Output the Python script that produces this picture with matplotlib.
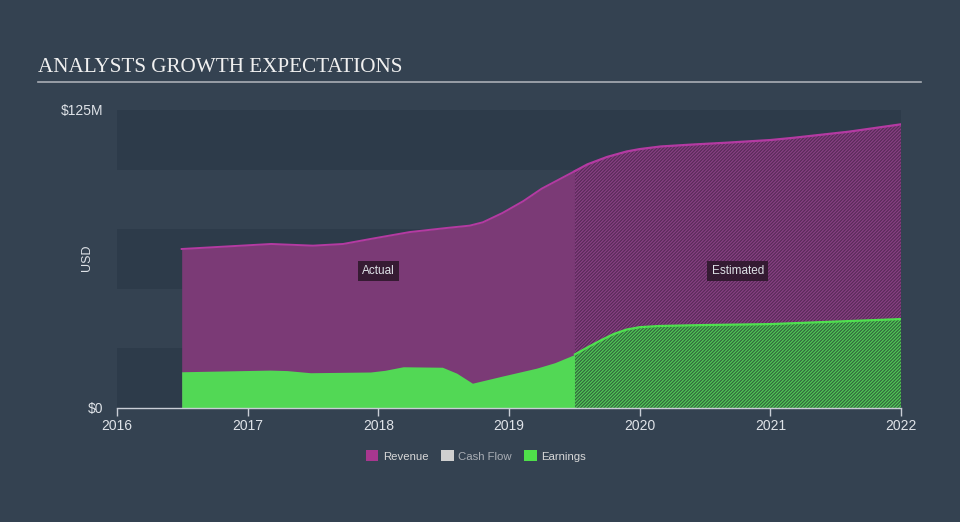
import matplotlib
matplotlib.use("Agg")
import matplotlib.pyplot as plt
from matplotlib.patches import Patch
from matplotlib.lines import Line2D

# ---- data (millions USD) ----
rev_act_x = [2016.495, 2017.18, 2017.50, 2017.73, 2017.94, 2018.24, 2018.52, 2018.70, 2018.80, 2018.95, 2019.11, 2019.25, 2019.505]
rev_act_y = [66.7, 68.8, 68.1, 68.8, 70.9, 73.8, 75.5, 76.5, 77.9, 81.8, 86.8, 92.0, 99.4]
rev_est_x = [2019.505, 2019.60, 2019.75, 2019.90, 2020.0, 2020.16, 2020.40, 2020.67, 2021.0, 2021.17, 2021.60, 2022.0]
rev_est_y = [99.4, 102.2, 105.3, 107.6, 108.6, 109.7, 110.5, 111.3, 112.4, 113.3, 115.9, 119.0]

earn_act_x = [2016.495, 2017.17, 2017.30, 2017.48, 2017.94, 2018.05, 2018.19, 2018.49, 2018.60, 2018.72, 2018.95, 2019.21, 2019.35, 2019.505]
earn_act_y = [15.2, 15.9, 15.7, 14.8, 15.1, 15.8, 17.3, 17.1, 14.6, 10.4, 13.4, 16.7, 19.0, 22.5]
earn_est_x = [2019.505, 2019.60, 2019.70, 2019.80, 2019.90, 2020.0, 2020.15, 2020.5, 2021.0, 2022.0]
earn_est_y = [22.5, 25.4, 28.3, 31.0, 32.9, 33.9, 34.4, 34.8, 35.2, 37.3]

years = [2016, 2017, 2018, 2019, 2020, 2021, 2022]
y_ticks = [0, 125]
y_labels = ["$0", "$125M"]
legend_names = ["Revenue", "Cash Flow", "Earnings"]

BG = "#344251"
BAND = "#2d3b4a"
REV = "#7b3a76"
REV_LINE = "#b43aa2"
REV_EST = "#5a2b59"
EARN = "#52d855"
EARN_EST = "#32683d"
TXT = "#dfe3e8"

plt.rcParams["hatch.linewidth"] = 0.8
plt.rcParams["font.family"] = ["Liberation Sans", "DejaVu Sans"]

fig = plt.figure(figsize=(9.6, 5.22), dpi=100, facecolor=BG)
ax = fig.add_axes([117 / 960, 1 - 408 / 522, 784 / 960, 298 / 522])
ax.set_facecolor(BG)
ax.set_xlim(2016, 2022)
ax.set_ylim(0, 125)

# alternating bands
for lo in (0, 50, 100):
    ax.axhspan(lo, lo + 25, color=BAND, lw=0, zorder=0)

# actual
ax.fill_between(rev_act_x, 0, rev_act_y, color=REV, lw=0, zorder=1)
ax.fill_between(earn_act_x, 0, earn_act_y, color=EARN, lw=0, zorder=2)
ax.plot(rev_act_x, rev_act_y, color=REV_LINE, lw=1.4, zorder=3)

# estimated (hatched)
ax.fill_between(rev_est_x, 0, rev_est_y, facecolor=REV_EST, edgecolor="#8a4185",
                hatch="//////////", lw=0, zorder=1)
ax.fill_between(earn_est_x, 0, earn_est_y, facecolor=EARN_EST, edgecolor="#52cc57",
                hatch="//////////", lw=0, zorder=2)
ax.plot(rev_est_x, rev_est_y, color=REV_LINE, lw=1.6, zorder=3)
ax.plot(earn_est_x, earn_est_y, color="#4fe04f", lw=1.6, zorder=3)

box = dict(facecolor="#2a1628", edgecolor="none", alpha=0.85, pad=3)
ax.text(2018.0, 57.5, "Actual", color=TXT, fontsize=8.5, ha="center", va="center", bbox=box, zorder=5)
ax.text(2020.75, 57.5, "Estimated", color=TXT, fontsize=8.5, ha="center", va="center", bbox=box, zorder=5)

# axes styling
for s in ("top", "right", "left"):
    ax.spines[s].set_visible(False)
ax.spines["bottom"].set_color("#c9ced6")
ax.spines["bottom"].set_linewidth(1.0)
ax.spines["bottom"].set_zorder(4)
ax.set_xticks(years)
ax.set_xticklabels([str(y) for y in years])
ax.tick_params(axis="x", colors="#c9ced6", length=6, width=1, labelcolor=TXT, labelsize=10, pad=2)
ax.set_yticks(y_ticks)
ax.set_yticklabels(y_labels)
ax.tick_params(axis="y", length=0, labelcolor=TXT, labelsize=10, pad=10)

fig.text(87 / 960, 1 - 258 / 522, "USD", rotation=90, color=TXT, fontsize=9, ha="center", va="center")

# title + rule
fig.text(38 / 960, 1 - 67 / 522, "ANALYSTS GROWTH EXPECTATIONS", color="#f0f0f0",
         fontsize=15.2, family=["Liberation Serif", "DejaVu Serif"], ha="left", va="center")
fig.add_artist(Line2D([38 / 960, 921 / 960], [1 - 82 / 522] * 2, color="#a9aeb5", lw=1.2))

# legend
handles = [Patch(facecolor=c, edgecolor="none") for c in ("#a8378f", "#cfcfcf", "#4fe04a")]
leg = fig.legend(handles, legend_names, loc="center", bbox_to_anchor=(476 / 960, 1 - 456 / 522),
                 ncol=3, frameon=False, fontsize=8.2, handlelength=1.1,
                 handleheight=1.1, handletextpad=0.4, columnspacing=1.1)
for t, c in zip(leg.get_texts(), ("#d8d8d8", "#a9aeb5", "#d8d8d8")):
    t.set_color(c)

fig.savefig("out.png", dpi=100, facecolor=BG)
